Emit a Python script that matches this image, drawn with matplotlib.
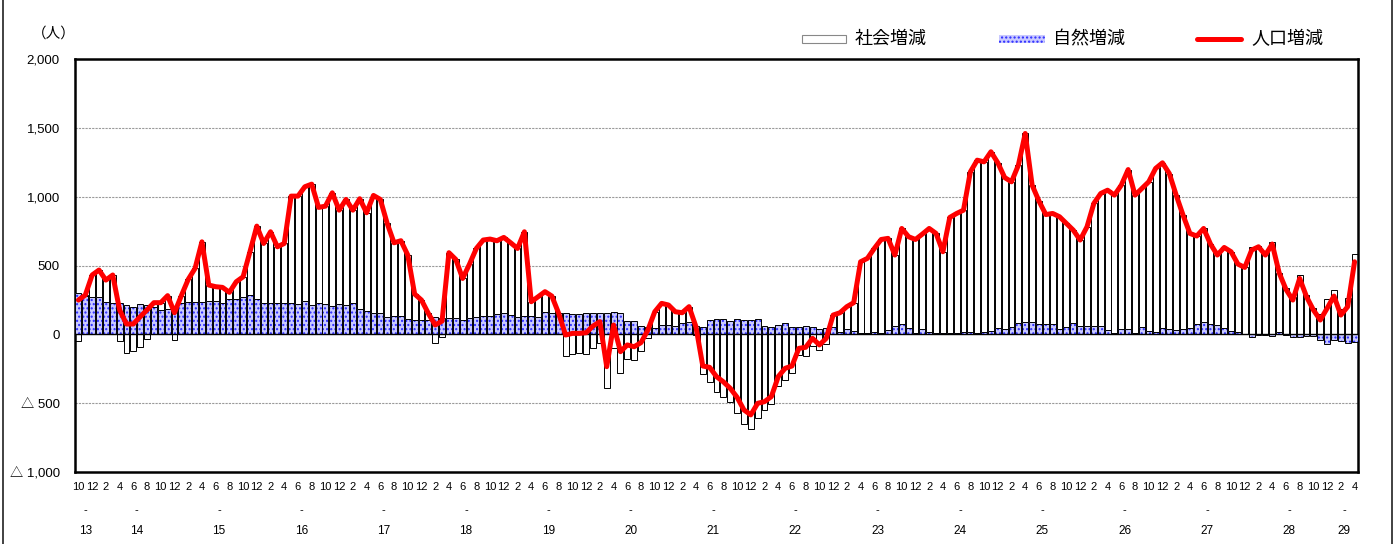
import numpy as np
import matplotlib
matplotlib.use("Agg")
import matplotlib.pyplot as plt
from matplotlib.patches import Rectangle
from matplotlib.lines import Line2D

# ---- data (monthly, H13/10 .. H29/4) ----
start_year = 13
start_month = 10
population = [
    249, 285, 431, 467, 394, 431, 177, 75, 75, 128,
    177, 230, 230, 281, 157, 281, 399, 479, 672, 358,
    346, 341, 305, 382, 418, 600, 786, 660, 745, 636,
    660, 1004, 1004, 1072, 1091, 922, 931, 1028, 902, 980,
    902, 985, 883, 1009, 980, 806, 665, 680, 576, 293,
    249, 152, 68, 96, 593, 544, 406, 510, 624, 685,
    692, 680, 704, 665, 624, 745, 237, 273, 310, 278,
    152, -5, 7, 7, 12, 60, 92, -235, 68, -126,
    -77, -90, -60, 31, 164, 225, 213, 164, 157, 201,
    56, -230, -240, -307, -345, -392, -457, -549, -585, -501,
    -489, -452, -307, -247, -230, -102, -94, -29, -77, -29,
    140, 157, 201, 230, 527, 552, 624, 689, 697, 576,
    769, 709, 689, 728, 769, 733, 600, 849, 878, 902,
    1180, 1265, 1253, 1326, 1246, 1139, 1108, 1229, 1459, 1084,
    968, 870, 878, 854, 806, 757, 685, 781, 951, 1023,
    1047, 1011, 1084, 1197, 1011, 1060, 1108, 1205, 1246, 1168,
    1011, 866, 733, 714, 769, 656, 576, 631, 600, 510,
    486, 612, 636, 576, 656, 448, 327, 249, 406, 273,
    177, 104, 189, 278, 140, 201, 527,
]
natural = [
    298, 278, 273, 273, 237, 230, 225, 213, 196, 220,
    210, 200, 177, 184, 196, 230, 237, 237, 237, 244,
    244, 230, 256, 256, 268, 285, 254, 230, 230, 230,
    225, 225, 220, 244, 213, 230, 220, 206, 220, 213,
    225, 181, 172, 152, 152, 128, 135, 133, 109, 104,
    104, 104, 128, 118, 121, 116, 104, 116, 128, 135,
    135, 148, 152, 140, 123, 133, 133, 128, 164, 157,
    152, 152, 148, 145, 157, 157, 152, 152, 164, 157,
    99, 97, 60, 56, 44, 68, 68, 60, 80, 87,
    60, 56, 104, 109, 109, 97, 111, 104, 104, 109,
    63, 56, 68, 85, 51, 51, 63, 56, 36, 44,
    51, 19, 39, 27, 12, 7, 15, 12, 31, 60,
    75, 44, 12, 36, 19, 7, 12, 7, 7, 15,
    19, 12, 15, 27, 44, 36, 51, 80, 92, 92,
    75, 73, 75, 41, 56, 80, 63, 63, 63, 60,
    31, 7, 41, 36, 12, 56, 27, 15, 44, 36,
    31, 36, 46, 75, 87, 73, 70, 44, 27, 15,
    0, -22, -7, -7, -12, 17, -7, -22, -22, -12,
    -12, -41, -70, -41, -46, -60, -58,
]
ytick_values = [-1000, -500, 0, 500, 1000, 1500, 2000]
ytick_labels = ["△ 1,000", "△ 500", "0", "500", "1,000", "1,500", "2,000"]
legend_labels = ["社会増減", "自然増減", "人口増減"]
unit_label = "（人）"

pop = np.array(population, dtype=float)
nat = np.array(natural, dtype=float)
soc = pop - nat
n = len(pop)
x = np.arange(n)

months = [(start_month - 1 + i) % 12 + 1 for i in range(n)]
years = [start_year + (start_month - 1 + i) // 12 for i in range(n)]

# stacking like a stacked column chart (natural first, social second)
nat_bottom = np.zeros(n)
soc_bottom = np.where((soc >= 0) & (nat >= 0), nat, np.where((soc < 0) & (nat < 0), nat, 0.0))

W, H = 1399, 544
fig = plt.figure(figsize=(W / 100, H / 100), dpi=100)
ax = fig.add_axes([75 / W, 72 / H, 1283 / W, 413 / H])

num_font = ["Liberation Sans", "Noto Sans CJK JP", "DejaVu Sans"]
cjk_font = ["Noto Sans CJK JP", "DejaVu Sans"]

bw = 0.86
ax.bar(x, soc, bottom=soc_bottom, width=bw, color="white", edgecolor="black",
       linewidth=0.7, zorder=2)
ax.bar(x, nat, bottom=nat_bottom, width=bw, color="#c9c9ff", edgecolor="#2a2aff",
       hatch="....", linewidth=0, zorder=3)
ax.bar(x, nat, bottom=nat_bottom, width=bw, color="none", edgecolor="black",
       linewidth=0.7, zorder=3)
ax.plot(x, pop, color="#ff0000", linewidth=3.6, solid_joinstyle="round",
        solid_capstyle="round", zorder=5)

ax.set_xlim(-0.5, n - 0.5)
ax.set_ylim(-1000, 2000)
for v in [-500, 500, 1000, 1500]:
    ax.axhline(v, color="#9a9a9a", linewidth=0.8, linestyle=(0, (2, 1)), zorder=1)
ax.axhline(0, color="black", linewidth=1.0, zorder=4)

ax.set_yticks(ytick_values)
ax.set_yticklabels(ytick_labels, fontsize=9.5, family=num_font)
ax.tick_params(axis="y", length=0, pad=11)

tick_idx = list(range(0, n, 2))
ax.set_xticks(tick_idx)
ax.set_xticklabels([str(months[i]) for i in tick_idx], fontsize=8, family=num_font)
ax.tick_params(axis="x", length=0, pad=7)

for s in ax.spines.values():
    s.set_linewidth(1.8)
    s.set_color("black")

# year labels centered on each calendar year
for yv in sorted(set(years)):
    idx = [i for i in range(n) if years[i] == yv]
    c = (idx[0] + idx[-1]) / 2.0
    ax.annotate("-", xy=(c, 0), xycoords=("data", "axes fraction"),
                xytext=(0, -27.5), textcoords="offset points",
                ha="center", va="center", fontsize=8, family=num_font)
    ax.annotate(str(yv), xy=(c, 0), xycoords=("data", "axes fraction"),
                xytext=(0, -42.5), textcoords="offset points",
                ha="center", va="center", fontsize=8.5, family=num_font)

# unit label
fig.text(54 / W, 1 - 34 / H, unit_label, ha="center", va="center",
         fontsize=10.5, family=cjk_font)

# legend (manual)
ly = 1 - 39 / H
fig.patches.append(Rectangle((802 / W, 1 - 43 / H), 44 / W, 8 / H, transform=fig.transFigure,
                             facecolor="white", edgecolor="#888888", linewidth=0.8))
fig.text(855 / W, ly, legend_labels[0], ha="left", va="center", fontsize=13, family=cjk_font)
fig.patches.append(Rectangle((999 / W, 1 - 43 / H), 46 / W, 8 / H, transform=fig.transFigure,
                             facecolor="#c9c9ff", edgecolor="#2a2aff", hatch="....",
                             linewidth=0))
fig.text(1053 / W, ly, legend_labels[1], ha="left", va="center", fontsize=13, family=cjk_font)
fig.lines.append(Line2D([1197 / W, 1241 / W], [ly, ly], transform=fig.transFigure,
                        color="#ff0000", linewidth=3.6, solid_capstyle="round"))
fig.text(1251 / W, ly, legend_labels[2], ha="left", va="center", fontsize=13, family=cjk_font)

# outer frame lines
fig.lines.append(Line2D([3 / W, 3 / W], [0, 1], transform=fig.transFigure,
                        color="#333333", linewidth=1.3))
fig.lines.append(Line2D([1392 / W, 1392 / W], [0, 1], transform=fig.transFigure,
                        color="#333333", linewidth=1.3))

fig.savefig("out.png", dpi=100)
